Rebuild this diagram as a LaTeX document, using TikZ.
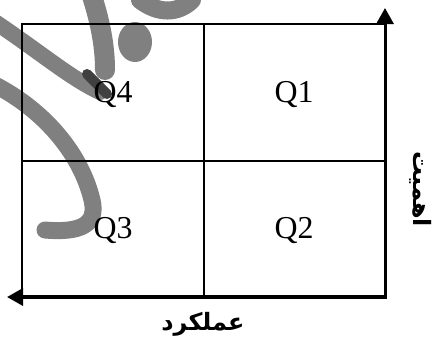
\documentclass[tikz,border=0pt]{standalone}
\usepackage{fontspec}
\setmainfont{Liberation Serif}
\newfontfamily\arabicfont[Script=Arabic]{DejaVu Sans}
\TeXXeTstate=1
\usetikzlibrary{arrows.meta}
\begin{document}
\begin{tikzpicture}[x=1bp,y=-1bp,
  thinline/.style={line width=1.6bp},
  axisline/.style={line width=3.5bp, line cap=rect, -{Triangle[length=16bp,width=17bp]}},
  quad/.style={font=\fontsize{32}{32}\selectfont, inner sep=0pt, anchor=base},
  lbl/.style={font=\arabicfont\bfseries\fontsize{24}{24}\selectfont, inner sep=0pt},
  wm/.style={draw=black!50, line cap=round, line width=16bp}]
\useasboundingbox (0,0) rectangle (436,340);
\begin{scope}
\clip (0,0) rectangle (436,340);
\draw[wm] (-5,22) .. controls (40,52) and (70,78) .. (100,92);
\draw[wm, line width=20bp] (90,-10) .. controls (100,20) and (105,45) .. (105,70);
\fill[black!50] (135,42) ellipse [x radius=17, y radius=20];
\draw[wm, line width=18bp] (140,0) .. controls (158,14) and (178,14) .. (192,0);
\draw[wm, line width=17bp] (-5,85) .. controls (40,108) and (80,150) .. (92,200) .. controls (98,225) and (80,233) .. (45,230);
\draw[line width=10bp, black!75, line cap=round] (87,74) -- (107,94);
\end{scope}
\coordinate (tl) at (22,24);
\coordinate (tr) at (385,24);
\coordinate (bl) at (22,297);
\coordinate (br) at (385,297);
\coordinate (tm) at (204,24);
\coordinate (bm) at (204,297);
\coordinate (ml) at (22,161);
\coordinate (mr) at (385,161);
\coordinate (xtip) at (7,297);
\coordinate (ytip) at (385,8);
\draw[thinline] (bl) -- (tl) -- (tr);
\draw[thinline] (tm) -- (bm);
\draw[thinline] (ml) -- (mr);
\draw[axisline] (br) -- (xtip);
\draw[axisline, line width=3bp] (br) -- (ytip);
\node[quad] (q4) at (113,102) {Q4};
\node[quad] (q1) at (294,102) {Q1};
\node[quad] (q3) at (113,238) {Q3};
\node[quad] (q2) at (294,238) {Q2};
\node[lbl] (xl) at (203,324) {\beginR عملکرد\endR};
\node[lbl, rotate=-90] (yl) at (421,189) {\beginR اهمیت\endR};
\end{tikzpicture}
\end{document}
